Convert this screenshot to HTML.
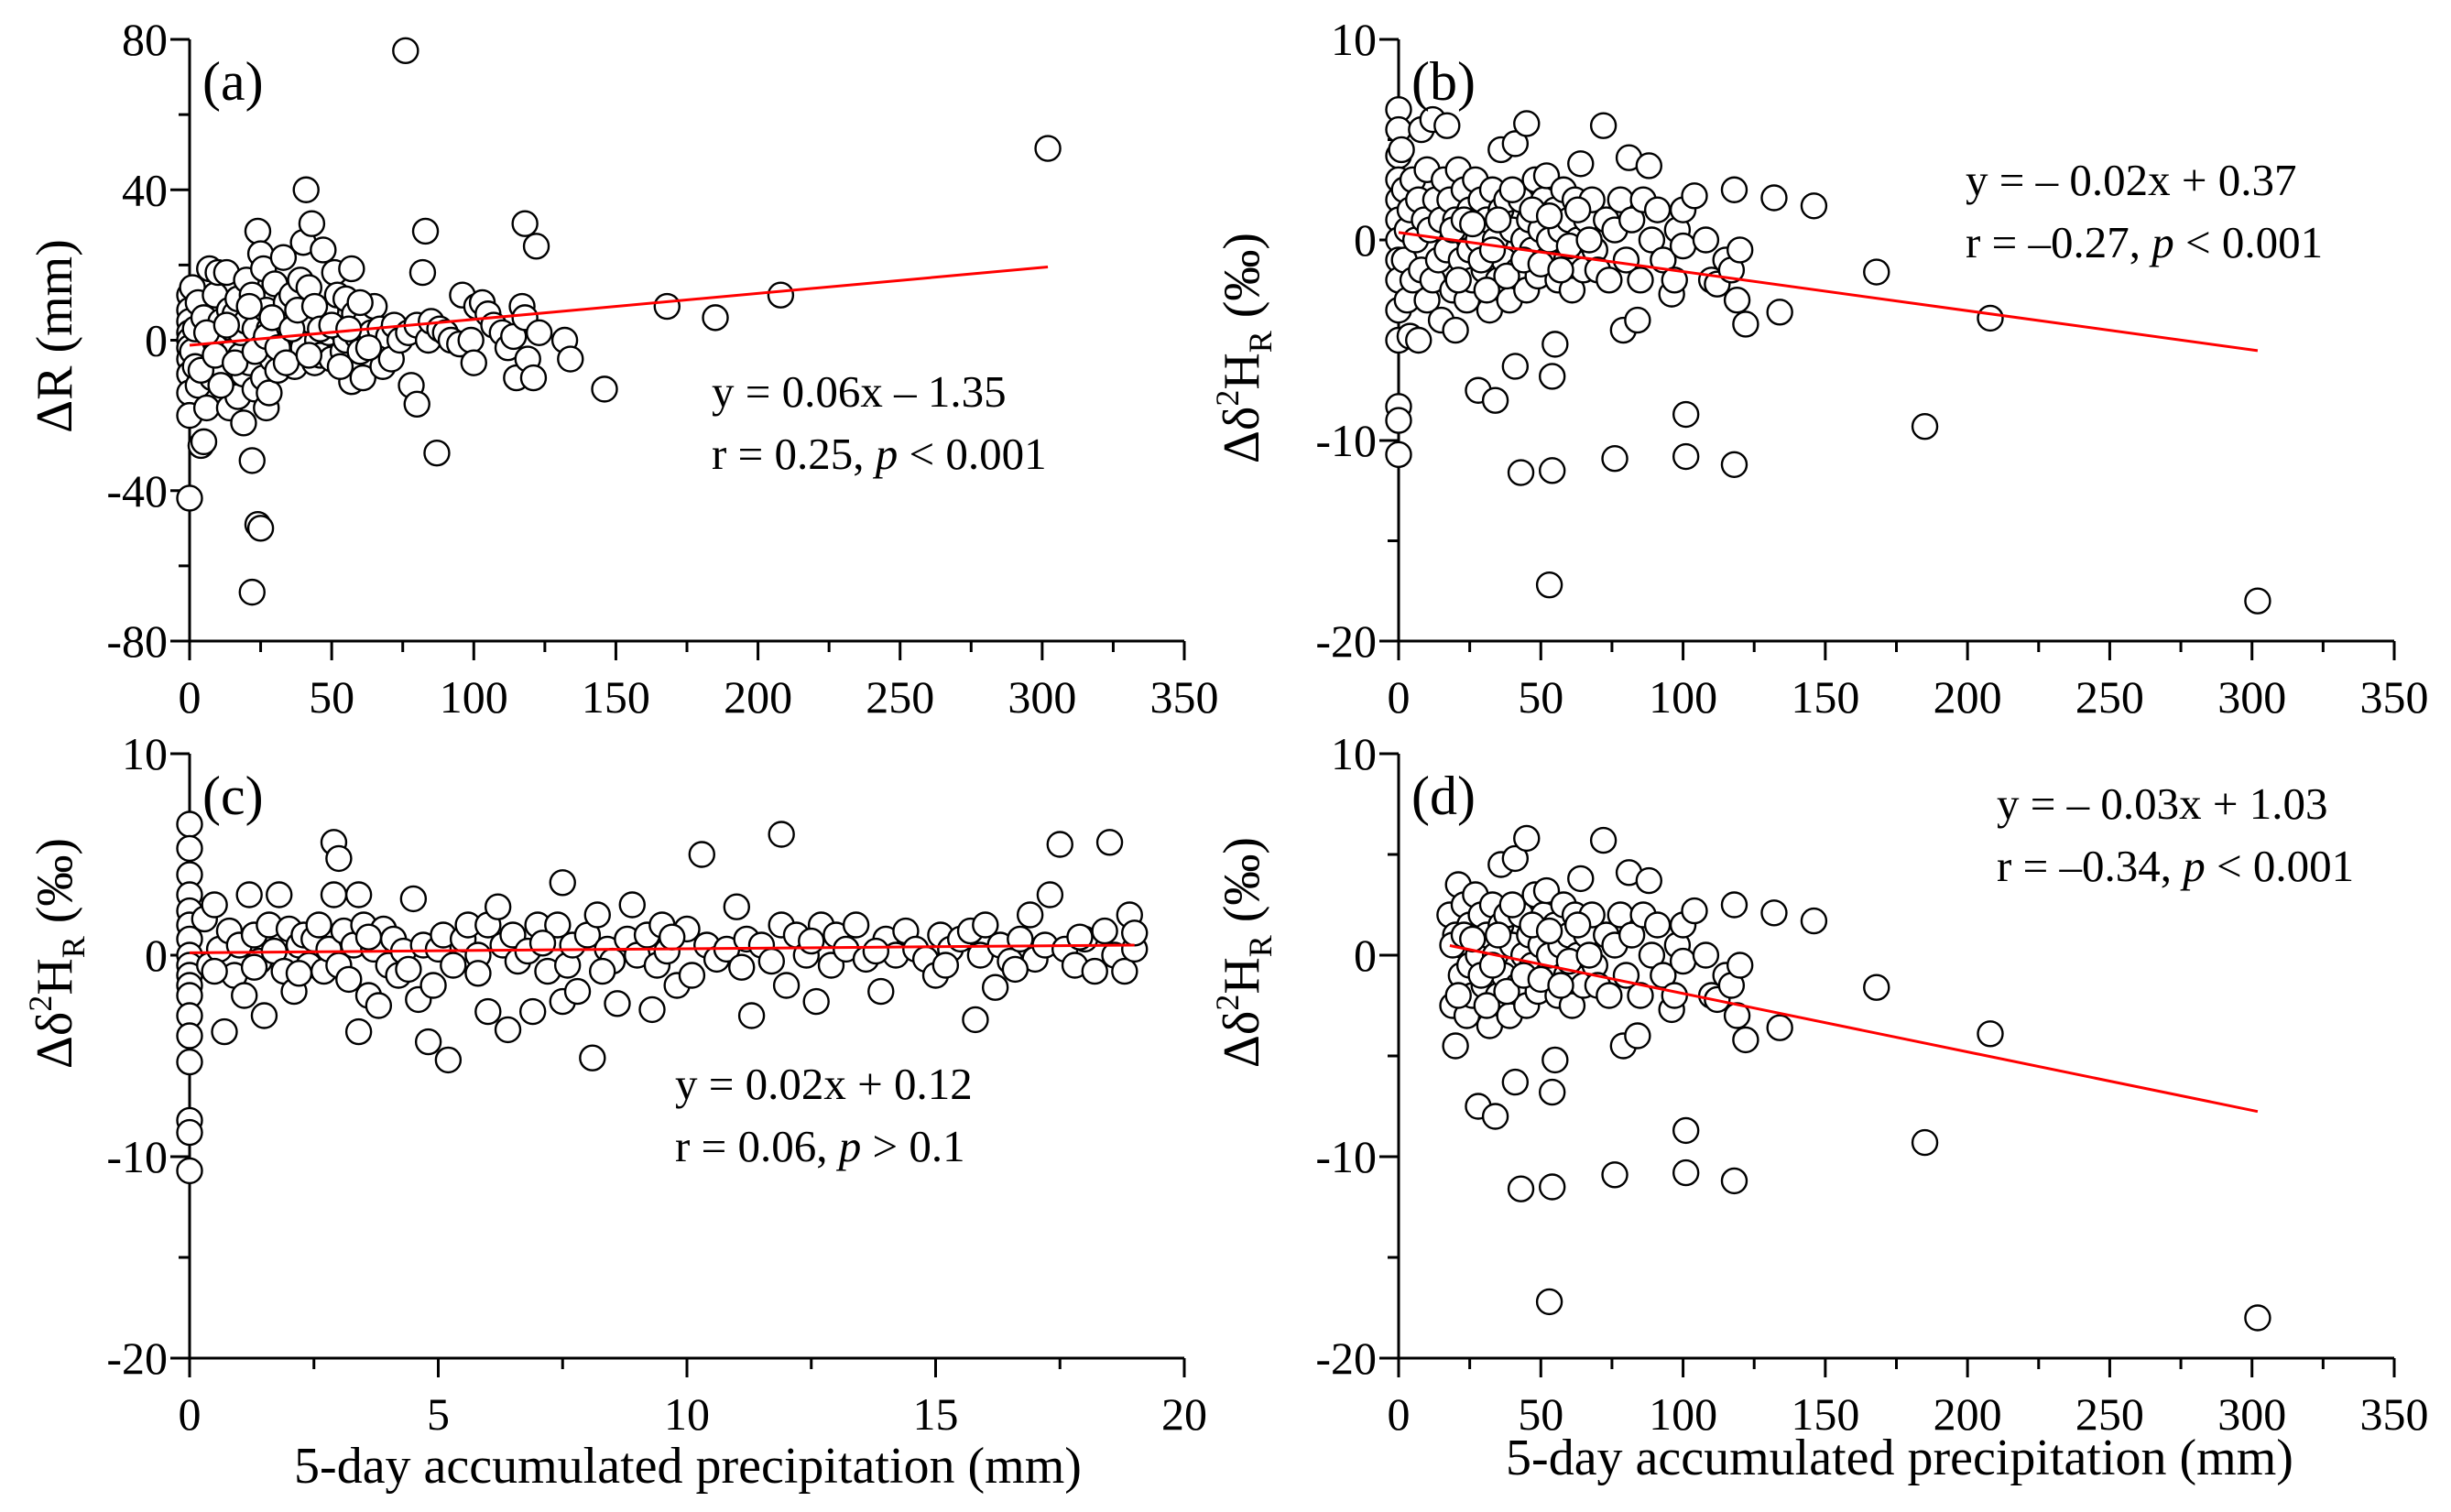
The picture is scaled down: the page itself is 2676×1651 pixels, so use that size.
<!DOCTYPE html>
<html><head><meta charset="utf-8"><style>
html,body{margin:0;padding:0;background:#fff;}
svg{display:block;font-family:"Liberation Serif",serif;}
</style></head><body>
<svg id="fig" width="2676" height="1651" viewBox="0 0 2676 1651" xmlns="http://www.w3.org/2000/svg"></svg>
<script>
// ---------- data ----------
const panelAPoints = [[0,12],[0,8],[0,5],[0,2],[0,0],[0,-2],[0,-5],[0,-9],[0,-14],[0,-20],[0,-42],[1,14],[1,-3],[2,3],[2,-7],[3,10],[3,-12],[4,-28],[5,-27],[5,6],[6,-18],[7,19],[8,1],[8,-10],[9,12],[10,18],[10,-5],[11,5],[12,-8],[12,0],[13,18],[14,-18],[14,8],[15,3],[15,-3],[16,7],[17,-15],[17,11],[18,-4],[18,2],[19,-22],[19,-9],[20,16],[20,5],[21,-6],[22,-32],[22,-67],[22,12],[23,-13],[23,3],[24,-49],[24,29],[25,-50],[25,23],[25,-2],[26,19],[26,-10],[27,8],[27,-18],[28,-14],[28,3],[29,-5],[30,15],[31,-8],[32,0],[33,22],[33,5],[34,10],[35,-3],[36,12],[37,-7],[38,2],[39,16],[40,26],[40,-2],[41,40],[42,14],[43,31],[43,5],[44,-6],[45,0],[46,-4],[47,24],[48,8],[49,2],[50,-5],[51,18],[52,12],[53,3],[54,-3],[55,11],[55,0],[57,19],[57,-11],[58,7],[59,1],[60,-3],[61,-10],[62,5],[64,2],[65,9],[66,-1],[67,3],[68,-7],[70,1],[71,-5],[72,4],[74,0],[76,77],[77,2],[78,-12],[80,-17],[80,4],[82,18],[83,29],[84,0],[85,5],[87,-30],[88,3],[90,2],[92,0],[95,-1],[96,12],[99,0],[100,-6],[101,9],[103,10],[105,7],[107,4],[110,2],[112,-2],[114,1],[115,-10],[117,9],[118,31],[118,6],[119,-5],[121,-10],[122,25],[123,2],[132,0],[134,-5],[146,-13],[168,9],[185,6],[208,12],[302,51],[4,-8],[6,2],[9,-4],[11,-12],[13,4],[16,-6],[21,9],[23,-3],[27,1],[29,6],[31,-2],[34,-6],[36,3],[38,8],[42,-4],[44,9],[46,3],[50,4],[53,-7],[56,3],[60,10],[63,-2]];
const panelBPoints = [[0,6.5],[0,5.5],[0,4.2],[0,3],[0,2],[0,1],[0,0],[0,-1],[0,-2],[0,-3.5],[0,-5],[0,-8.3],[0,-9],[0,-10.7],[1,4.5],[2,2.5],[2,-1],[3,0.5],[3,-3],[4,1.5],[4,-4.8],[5,3],[5,-2],[6,0],[7,2],[7,-5],[8,5.5],[8,-1.5],[9,1],[10,-3],[10,3.5],[11,0.5],[12,6],[12,-2],[13,2],[14,-1],[15,1],[15,-4],[16,3],[17,5.7],[17,-0.5],[18,2],[19,-2.5],[20,1],[20,-4.5],[21,3.5],[22,-1],[22,0.5],[23,2.5],[24,-3],[25,1.5],[25,-0.5],[26,-2],[27,3],[28,-7.5],[28,0],[29,2],[30,-1.5],[31,1],[32,-3.5],[33,2.5],[34,-8],[34,0],[35,-2],[36,4.5],[36,1.5],[37,-1],[38,2],[39,-3],[40,0.5],[41,4.8],[41,-6.3],[42,-1.5],[43,-11.6],[43,2],[44,0],[45,5.8],[45,-2.5],[46,1],[47,-0.5],[48,3],[49,-1.8],[50,0.5],[51,2],[52,3.2],[52,-1],[53,-17.2],[53,0],[54,-11.5],[54,-6.8],[55,-5.2],[55,1.5],[56,-2],[57,0.5],[58,2.5],[59,-1],[60,1],[61,-2.5],[62,2],[63,0],[64,3.8],[65,-1.5],[66,1],[68,2],[69,-0.5],[70,-1.5],[72,5.7],[73,1],[74,-2],[76,-10.9],[76,0.5],[78,2],[79,-4.5],[80,-1],[81,4.1],[82,1],[84,-4],[85,-2],[86,2],[88,3.7],[89,0],[91,1.5],[93,-1],[96,-2.7],[97,-2],[98,0.5],[100,1.5],[100,-0.3],[101,-8.7],[101,-10.8],[104,2.2],[108,0],[110,-2],[112,-2.2],[115,-1],[117,-1.5],[118,2.5],[118,-11.2],[119,-3],[120,-0.5],[122,-4.2],[134,-3.6],[132,2.1],[146,1.7],[168,-1.6],[185,-9.3],[208,-3.9],[302,-18],[19,0.5],[21,-2],[23,1],[26,0.8],[29,-1],[31,-2.5],[33,-0.5],[35,1],[38,-1.8],[40,2.5],[44,-1],[47,1.5],[50,-1.2],[53,1.2],[57,-1.5],[60,-0.3],[63,1.5],[67,0]];
const panelCPoints = [[0,6.5],[0,5.3],[0,4],[0,3],[0,2.2],[0,1.5],[0,0.8],[0,0],[0,-0.5],[0,-1],[0,-1.5],[0,-2],[0,-3],[0,-4],[0,-5.3],[0,-8.2],[0,-8.8],[0,-10.7],[0.3,1.8],[0.4,-0.5],[0.5,2.5],[0.6,0.3],[0.7,-3.8],[0.8,1.2],[0.9,-1],[1.0,0.5],[1.1,-2],[1.2,3],[1.3,1],[1.4,-0.3],[1.5,-3],[1.6,1.5],[1.7,0.2],[1.8,3],[1.9,-0.8],[2.0,1.3],[2.1,-1.8],[2.2,0.5],[2.3,1],[2.4,-0.5],[2.5,0.8],[2.6,1.5],[2.7,-0.8],[2.8,0.3],[2.9,5.6],[2.9,3],[3.0,4.8],[3.0,-0.5],[3.1,1.2],[3.2,-1.2],[3.3,0.5],[3.4,3],[3.4,-3.8],[3.5,1.5],[3.6,-2],[3.7,0.3],[3.8,-2.5],[3.9,1.3],[4.0,-0.5],[4.1,0.8],[4.2,-1],[4.3,0.2],[4.5,2.8],[4.6,-2.2],[4.7,0.5],[4.8,-4.3],[4.9,-1.5],[5.0,0.3],[5.1,1],[5.2,-5.2],[5.3,-0.5],[5.5,0.8],[5.6,1.5],[5.8,0],[6.0,-2.8],[6.0,1.5],[6.2,2.4],[6.3,0.5],[6.4,-3.7],[6.5,1],[6.6,-0.3],[6.8,0.2],[6.9,-2.8],[7.0,1.5],[7.2,-0.8],[7.4,1.5],[7.5,3.6],[7.5,-2.3],[7.6,-0.5],[7.7,0.5],[7.8,-1.8],[8.0,1],[8.1,-5.1],[8.2,2],[8.4,0.3],[8.5,-0.3],[8.6,-2.4],[8.8,0.8],[8.9,2.5],[9.0,0],[9.2,1],[9.3,-2.7],[9.4,-0.5],[9.5,1.5],[9.6,0.2],[9.8,-1.5],[10.0,1.3],[10.1,-1],[10.3,5],[10.4,0.5],[10.6,-0.2],[10.8,0.3],[11.0,2.4],[11.2,0.8],[11.3,-3],[11.5,0.5],[11.7,-0.3],[11.9,6],[11.9,1.5],[12.0,-1.5],[12.2,1],[12.4,0],[12.6,-2.3],[12.7,1.5],[12.9,-0.5],[13.0,1],[13.2,0.3],[13.4,1.5],[13.6,-0.2],[13.9,-1.8],[14.0,0.8],[14.2,0],[14.4,1.2],[14.6,0.3],[14.8,-0.2],[15.0,-1],[15.1,1],[15.3,0.3],[15.5,0.8],[15.7,1.2],[15.8,-3.2],[15.9,0],[16.0,1.5],[16.2,-1.6],[16.3,0.5],[16.5,-0.3],[16.7,0.8],[16.9,2],[17.0,-0.2],[17.2,0.5],[17.3,3],[17.5,5.5],[17.6,0.3],[17.8,-0.5],[18.0,0.8],[18.2,-0.8],[18.4,1.2],[18.5,5.6],[18.6,0],[18.8,-0.8],[18.9,2],[19.0,0.3],[19.0,1.1],[0.5,-0.8],[1.3,-0.6],[2.2,-0.9],[3.6,0.9],[4.4,-0.7],[5.8,-0.9],[7.1,0.6],[8.3,-0.8],[9.7,0.9],[11.1,-0.6],[12.5,0.7],[13.8,0.2],[15.2,-0.5],[16.6,-0.7],[17.9,0.9]];
const panelDMinX = 18;
const fitA = [0.069, -1.35, 0, 302];
const fitB = [-0.0195, 0.37, 0, 302];
const fitC = [0.02, 0.12, 0, 19];
const fitD = [-0.029, 1.0, 18, 302];
const xTicksA = [0,50,100,150,200,250,300,350];
const xTicksC = [0,5,10,15,20];
const yTicksA = [80,40,0,-40,-80];
const yTicksB = [10,0,-10,-20];

const NS = "http://www.w3.org/2000/svg";
const svg = document.getElementById('fig');
function el(tag, attrs, parent) {
  const e = document.createElementNS(NS, tag);
  for (const k in attrs) e.setAttribute(k, attrs[k]);
  (parent || svg).appendChild(e);
  return e;
}
function panel(name, px0, px1, py0, py1, xmin, xmax, ymin, ymax, xticks, yticks, pts, fit, label, eq1, eq2parts, eqX, eqY) {
  const g = el('g', {});
  
  
  const sx = v => px0 + (v - xmin) / (xmax - xmin) * (px1 - px0);
  const sy = v => py1 - (v - ymin) / (ymax - ymin) * (py1 - py0);
  const ax = el('path', {d: `M${px0},${py0} L${px0},${py1} L${px1},${py1}`, fill: 'none', stroke: '#000', 'stroke-width': 3}, g);
  
  
  for (let i = 0; i < xticks.length; i++) {
    const x = sx(xticks[i]);
    el('line', {x1: x, y1: py1, x2: x, y2: py1 + 21, stroke: '#000', 'stroke-width': 3}, g);
    if (i < xticks.length - 1) {
      const xm = sx((xticks[i] + xticks[i + 1]) / 2);
      el('line', {x1: xm, y1: py1, x2: xm, y2: py1 + 12, stroke: '#000', 'stroke-width': 3}, g);
    }
    const t = el('text', {x: x, y: py1 + 78, 'font-size': 50, 'text-anchor': 'middle'}, g);
    
    
    t.textContent = xticks[i];
  }
  for (let i = 0; i < yticks.length; i++) {
    const y = sy(yticks[i]);
    el('line', {x1: px0 - 21, y1: y, x2: px0, y2: y, stroke: '#000', 'stroke-width': 3}, g);
    if (i < yticks.length - 1) {
      const ym = sy((yticks[i] + yticks[i + 1]) / 2);
      el('line', {x1: px0 - 12, y1: ym, x2: px0, y2: ym, stroke: '#000', 'stroke-width': 3}, g);
    }
    const t = el('text', {x: px0 - 24, y: y + 17, 'font-size': 50, 'text-anchor': 'end'}, g);
    
    
    t.textContent = yticks[i];
  }
  for (const p of pts) {
    const c = el('circle', {cx: sx(p[0]), cy: sy(p[1]), r: 13.5, fill: '#fff', stroke: '#000', 'stroke-width': 2.4}, g);
    
    
  }
  const fl = el('line', {x1: sx(fit[2]), y1: sy(fit[0] * fit[2] + fit[1]), x2: sx(fit[3]), y2: sy(fit[0] * fit[3] + fit[1]), stroke: '#ff0000', 'stroke-width': 3}, g);
  
  
  const lb = el('text', {x: px0 + 14, y: py0 + 66, 'font-size': 60}, g);
  
  
  lb.textContent = label;
  const e1 = el('text', {x: eqX, y: eqY, 'font-size': 49}, g);
  
  
  e1.textContent = eq1;
  const e2 = el('text', {x: eqX, y: eqY + 68, 'font-size': 49}, g);
  
  
  e2.innerHTML = eq2parts;
  return g;
}
const dPts = panelBPoints.filter(p => p[0] >= panelDMinX);
panel('a', 207, 1293, 43, 700, 0, 350, -80, 80, xTicksA, yTicksA, panelAPoints, fitA, '(a)', 'y = 0.06x \u2013 1.35', 'r = 0.25, <tspan font-style="italic">p</tspan> &lt; 0.001', 777, 444);
panel('b', 1527, 2614, 43, 700, 0, 350, -20, 10, xTicksA, yTicksB, panelBPoints, fitB, '(b)', 'y = \u2013 0.02x + 0.37', 'r = \u20130.27, <tspan font-style="italic">p</tspan> &lt; 0.001', 2146, 213);
panel('c', 207, 1293, 823, 1483, 0, 20, -20, 10, xTicksC, yTicksB, panelCPoints, fitC, '(c)', 'y = 0.02x + 0.12', 'r = 0.06, <tspan font-style="italic">p</tspan> &gt; 0.1', 737, 1200);
panel('d', 1527, 2614, 823, 1483, 0, 350, -20, 10, xTicksA, yTicksB, dPts, fitD, '(d)', 'y = \u2013 0.03x + 1.03', 'r = \u20130.34, <tspan font-style="italic">p</tspan> &lt; 0.001', 2180, 894);

function ytitle(name, x, y, html) {
  const t = el('text', {x: 0, y: 0, 'font-size': 56, 'text-anchor': 'middle', transform: `translate(${x},${y}) rotate(-90)`});
  
  
  t.innerHTML = html;
}
ytitle('y-axis-title-a', 78, 367, '\u0394R (mm)');
const dh = '\u0394\u03b4<tspan dy="-22" font-size="36">2</tspan><tspan dy="22">H</tspan><tspan dy="14" font-size="36">R</tspan><tspan dy="-14"> (\u2030)</tspan>';
ytitle('y-axis-title-b', 1374, 380, dh);
ytitle('y-axis-title-c', 78, 1041, dh);
ytitle('y-axis-title-d', 1374, 1040, dh);
function xtitle(name, x, y) {
  const t = el('text', {x: x, y: y, 'font-size': 56, 'text-anchor': 'middle'});
  
  
  t.textContent = '5-day accumulated precipitation (mm)';
}
xtitle('x-axis-title-c', 751, 1619);
xtitle('x-axis-title-d', 2074, 1610);
</script>
</body></html>
